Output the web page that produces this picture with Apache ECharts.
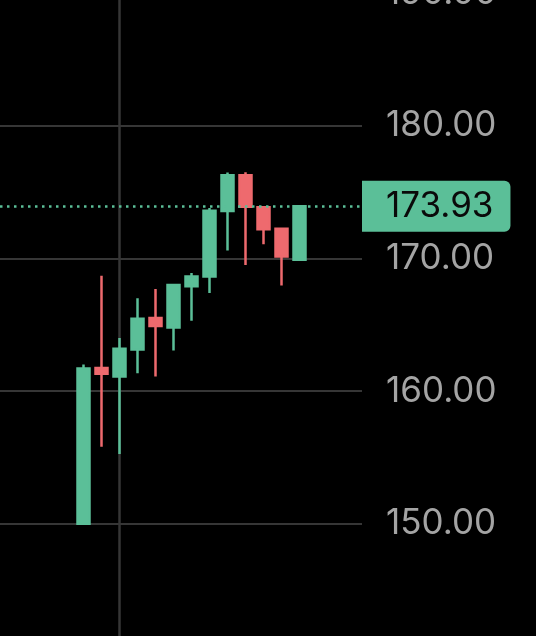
<!DOCTYPE html>
<html>
<head>
<meta charset="utf-8">
<script src="https://cdn.jsdelivr.net/npm/echarts@6/dist/echarts.min.js"></script>
<style>
html,body{margin:0;padding:0;background:#000;}
#c{width:536px;height:636px;}
</style>
</head>
<body>
<div id="c"></div>
<script>
// Candle values (index order, oldest first)
const opens  = [150.0, 161.75, 161.1, 163.13, 165.5, 164.8, 167.9, 168.64, 173.57, 176.26, 173.85, 172.24, 169.9];
const closes = [161.7, 161.3, 163.2, 165.45, 164.9, 168.0, 168.64, 173.6, 176.26, 173.9, 172.2, 170.15, 173.93];
const lows   = [149.95, 155.8, 155.26, 161.35, 161.1, 163.06, 165.3, 167.4, 170.6, 169.5, 171.06, 167.96, 169.9];
const highs  = [162.0, 168.7, 164.0, 167.0, 167.7, 168.04, 168.9, 173.8, 176.47, 176.5, 173.85, 172.25, 173.95];
const lastPrice = 173.93;
const yTicks = [140, 150, 160, 170, 180, 190];
const verticalMarkerIndex = 2;

const UP = '#5bbf98';
const DOWN = '#ee6a6e';
const GRIDC = '#363636';

const candleData = opens.map((o, i) => [i, o, closes[i], lows[i], highs[i]]);

const chart = echarts.init(document.getElementById('c'));
chart.setOption({
  backgroundColor: '#000',
  animation: false,
  grid: { left: 0, right: 174, top: -7, bottom: -20.5, containLabel: false, outerBoundsMode: 'none' },
  xAxis: {
    type: 'value',
    min: -83.5 / 18,
    max: (362 - 83.5) / 18,
    show: false,
    splitLine: { show: false }
  },
  yAxis: {
    type: 'value',
    position: 'right',
    min: yTicks[0],
    max: yTicks[yTicks.length - 1],
    interval: 10,
    axisLine: { show: false },
    axisTick: { show: false },
    splitLine: { lineStyle: { color: GRIDC, width: 2 } },
    axisLabel: {
      margin: 24,
      color: '#a4a4a4',
      fontSize: 35,
      fontFamily: 'Inter',
      formatter: v => v.toFixed(2)
    }
  },
  series: [
    {
      type: 'line',
      data: [],
      z: 1,
      markLine: {
        z: 1,
        silent: true,
        symbol: 'none',
        label: { show: false },
        lineStyle: { color: GRIDC, width: 2.5, type: 'solid' },
        data: [{ xAxis: verticalMarkerIndex }]
      }
    },
    {
      type: 'candlestick',
      z: 3,
      barWidth: 12.5,
      data: candleData,
      itemStyle: {
        color: UP,
        color0: DOWN,
        borderColor: UP,
        borderColor0: DOWN,
        borderWidth: 2.5
      },
      markLine: {
        silent: true,
        symbol: 'none',
        lineStyle: { color: UP, width: 2.5, type: [2.5, 4.5] },
        label: {
          show: true,
          position: 'end',
          distance: 0,
          formatter: () => lastPrice.toFixed(2),
          color: '#0a0a0a',
          fontSize: 35,
          fontFamily: 'Inter',
          backgroundColor: UP,
          padding: [8, 17, 8, 24],
          borderRadius: [0, 6, 6, 0]
        },
        data: [{ yAxis: lastPrice }]
      }
    }
  ]
});
</script>
</body>
</html>
